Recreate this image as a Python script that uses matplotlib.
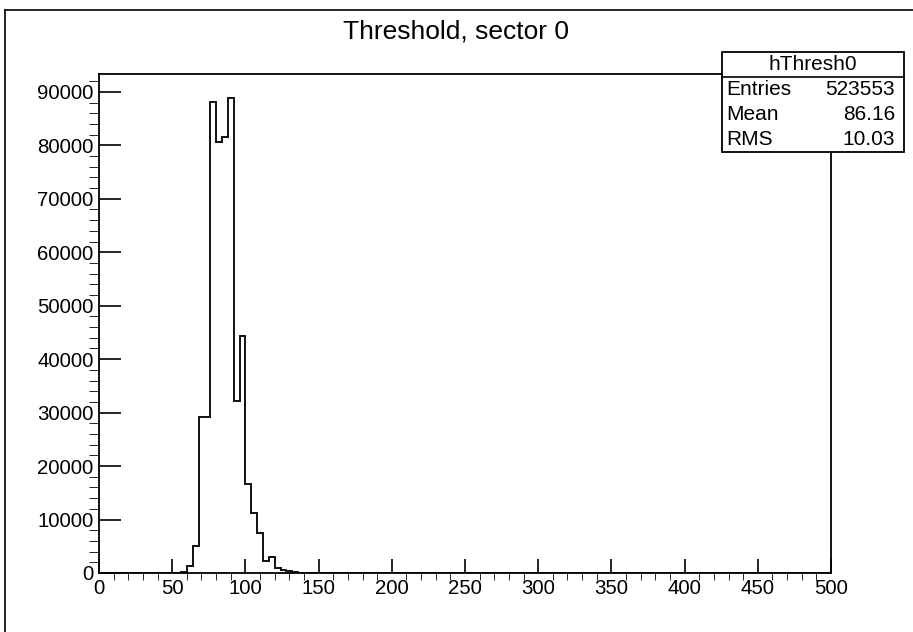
import numpy as np
import matplotlib
matplotlib.use('Agg')
import matplotlib.pyplot as plt
from matplotlib.patches import Rectangle
from matplotlib.lines import Line2D
from matplotlib.ticker import MultipleLocator

plt.rcParams['font.family'] = ['Liberation Sans', 'DejaVu Sans']

## Daten: Histogramm hThresh0, 125 Bins der Breite 4 zwischen 0 und 500
x_min, x_max, bin_breite = 0, 500, 4
erster_bin = 52  # linke Kante des ersten gefuellten Bins
inhalte = [50, 200, 1400, 5000, 29100, 29100, 88100, 80600, 81500, 88900,
           32100, 44300, 16700, 11200, 7500, 2250, 2900, 850, 520, 340, 150, 60]

titel = 'Threshold, sector 0'
hist_name = 'hThresh0'
stat_namen = ['Entries', 'Mean', 'RMS']
stat_werte = ['523553', '86.16', '10.03']

# alle Bins aufbauen (leere Bins = 0)
kanten = np.arange(x_min, x_max + bin_breite, bin_breite)
werte = np.zeros(len(kanten) - 1)
i0 = (erster_bin - x_min) // bin_breite
werte[i0:i0 + len(inhalte)] = inhalte

W, H = 913, 632
fig = plt.figure(figsize=(W / 100, H / 100), dpi=100)

# Pixel -> Figurkoordinaten
fx = lambda x: x / W
fy = lambda y: 1 - y / H

ax = fig.add_axes([fx(99), fy(573), fx(831) - fx(99), fy(74) - fy(573)])
ax.stairs(werte, kanten, color='#111111', linewidth=1.4)
ax.set_xlim(x_min, x_max)
ax.set_ylim(0, 1.05 * werte.max())

# Achsen im ROOT-Stil
ax.xaxis.set_major_locator(MultipleLocator(50))
ax.xaxis.set_minor_locator(MultipleLocator(10))
ax.yaxis.set_major_locator(MultipleLocator(10000))
ax.yaxis.set_minor_locator(MultipleLocator(2000))
ax.tick_params(direction='in', labelsize=14.7, width=1.2, colors='black')
ax.tick_params(axis='x', which='major', length=10, pad=4)
ax.tick_params(axis='x', which='minor', length=5)
ax.tick_params(axis='y', which='major', length=15.5, pad=4)
ax.tick_params(axis='y', which='minor', length=7.5)
for s in ax.spines.values():
    s.set_linewidth(1.3)

# Titel
fig.text(fx(456), fy(31), titel, ha='center', va='center', fontsize=19)

# Statistik-Box
box_l, box_r, box_o, box_u, trenn = 722, 904, 52, 152, 77
fig.add_artist(Rectangle((fx(box_l), fy(box_u)), fx(box_r) - fx(box_l), fy(box_o) - fy(box_u),
                         transform=fig.transFigure, facecolor='white', edgecolor='black',
                         linewidth=1.3, zorder=5))
fig.add_artist(Line2D([fx(box_l), fx(box_r)], [fy(trenn), fy(trenn)],
                      transform=fig.transFigure, color='black', linewidth=1.2, zorder=6))
fig.text(fx((box_l + box_r) / 2), fy((box_o + trenn) / 2), hist_name,
         ha='center', va='center', fontsize=15, zorder=7)
zeile = (box_u - trenn) / 3
for k in range(3):
    y = fy(trenn + zeile * (k + 0.5))
    fig.text(fx(box_l + 4), y, stat_namen[k], ha='left', va='center', fontsize=15, zorder=7)
    fig.text(fx(box_r - 9), y, stat_werte[k], ha='right', va='center', fontsize=15, zorder=7)

# Rahmen des Canvas (links und oben)
fig.add_artist(Line2D([fx(5), fx(5)], [0, fy(10)], transform=fig.transFigure,
                      color='black', linewidth=1.2))
fig.add_artist(Line2D([fx(5), 1], [fy(10), fy(10)], transform=fig.transFigure,
                      color='black', linewidth=1.2))

fig.savefig('out.png', dpi=100)
